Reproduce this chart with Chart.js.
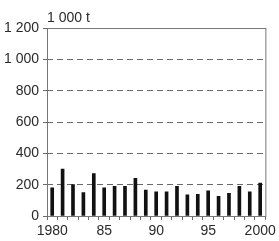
<!DOCTYPE html>
<html>
<head>
<meta charset="utf-8">
<script src="https://cdn.jsdelivr.net/npm/chart.js@4"></script>
<style>
  html, body { margin: 0; padding: 0; background: #fff; }
  #wrap { width: 279px; height: 241px; }
</style>
</head>
<body>
<div id="wrap"><canvas id="chart" width="279" height="241"></canvas></div>
<script>
// years 1980 - 2000
const years = [1980, 1981, 1982, 1983, 1984, 1985, 1986, 1987, 1988, 1989, 1990,
               1991, 1992, 1993, 1994, 1995, 1996, 1997, 1998, 1999, 2000];
// tonnes (1 000 t)
const values = [180, 300, 200, 150, 270, 180, 190, 190, 240, 165, 155,
                155, 190, 135, 138, 160, 125, 145, 190, 155, 210];
const xTickLabels = { 1980: '1980', 1985: '85', 1990: '90', 1995: '95', 2000: '2000' };
const unitLabel = '1 000 t';

const FONT = '"Liberation Sans", Arial, sans-serif';
const TEXT = '#2a2a2a';
const GRID = '#6a6a6a';

// solid frame round the plot + unit label
const framePlugin = {
    id: 'frame',
    afterDraw(chart) {
        const { ctx, chartArea: a } = chart;
        ctx.save();
        ctx.strokeStyle = '#777';
        ctx.lineWidth = 1;
        ctx.setLineDash([]);
        ctx.strokeRect(a.left + 0.5, a.top + 0.5, a.right - a.left, a.bottom - a.top);
        ctx.fillStyle = TEXT;
        ctx.font = '14px ' + FONT;
        ctx.textBaseline = 'bottom';
        ctx.textAlign = 'left';
        ctx.fillText(unitLabel, a.left, a.top - 3);
        ctx.restore();
    }
};

new Chart(document.getElementById('chart'), {
    type: 'bar',
    data: {
        labels: years,
        datasets: [{
            data: values,
            backgroundColor: '#111',
            barThickness: 3
        }]
    },
    options: {
        responsive: false,
        animation: false,
        layout: { padding: { top: 28, right: 11, left: 0, bottom: 0 } },
        plugins: {
            legend: { display: false },
            tooltip: { enabled: false }
        },
        scales: {
            x: {
                offset: true,
                grid: {
                    display: true,
                    drawOnChartArea: false,
                    tickLength: 4,
                    color: GRID
                },
                border: { display: false },
                ticks: {
                    autoSkip: false,
                    maxRotation: 0,
                    padding: 3,
                    color: TEXT,
                    font: { family: FONT, size: 14 },
                    callback: (v, i) => xTickLabels[years[i]] || ''
                },
                afterFit: (s) => { s.height = 25; }
            },
            y: {
                min: 0,
                max: 1200,
                ticks: {
                    stepSize: 200,
                    padding: 4,
                    color: TEXT,
                    font: { family: FONT, size: 14 },
                    callback: (v) => v >= 1000 ? Math.floor(v / 1000) + ' ' + String(v % 1000).padStart(3, '0') : String(v)
                },
                grid: {
                    color: GRID,
                    tickLength: 4,
                    lineWidth: 1
                },
                border: { display: false, dash: [6, 4] },
                afterFit: (s) => { s.width = 47; }
            }
        }
    },
    plugins: [framePlugin]
});
</script>
</body>
</html>
